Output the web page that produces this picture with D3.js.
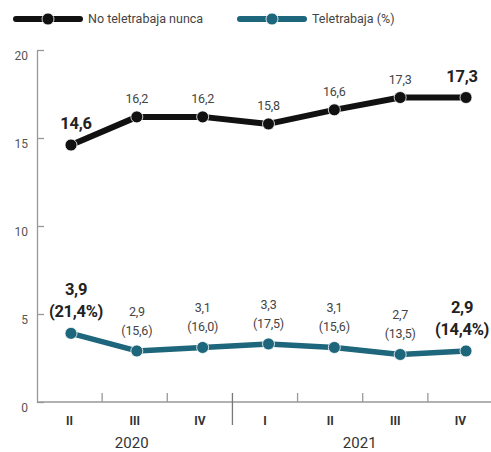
<!DOCTYPE html>
<html>
<head>
<meta charset="utf-8">
<script src="https://cdn.jsdelivr.net/npm/d3@7"></script>
<style>
  body { margin: 0; background: #fff; }
  svg { display: block; }
  .num { font-family: "Roboto", "Liberation Sans", sans-serif; }
</style>
</head>
<body>
<svg id="chart" width="491" height="452"></svg>
<script>
// data
var quarters = ["II", "III", "IV", "I", "II", "III", "IV"];
var years = ["2020", "2020", "2020", "2021", "2021", "2021", "2021"];
var nunca = [14.6, 16.2, 16.2, 15.8, 16.6, 17.3, 17.3];
var tele = [3.9, 2.9, 3.1, 3.3, 3.1, 2.7, 2.9];
var telePct = ["21,4", "15,6", "16,0", "17,5", "15,6", "13,5", "14,4"];
var yTicks = [0, 5, 10, 15, 20];

var black = "#111", teal = "#1d667b";
var svg = d3.select("#chart");
var idx = d3.range(quarters.length);

var band = d3.scaleBand().domain(idx).range([37, 493]);
var x = d3.scalePoint().domain(idx).range([71, 466]);
var y = d3.scaleLinear().domain([0, 20]).range([402, 50]);

function fmt(v) { return String(v.toFixed(1)).replace(".", ","); }
function isBig(i) { return i === 0 || i === idx.length - 1; }
// nudge the outer labels a little like the original
function labelShift(i) { return i === 0 ? 5 : (i === idx.length - 1 ? -4 : 0); }

// y axis
var yAxis = svg.append("g")
    .attr("transform", "translate(37,0)")
    .call(d3.axisLeft(y).tickValues(yTicks).tickSize(-7).tickSizeOuter(0));
yAxis.select(".domain").attr("stroke", "#999").attr("stroke-width", 1.3);
yAxis.selectAll(".tick line").attr("stroke", "#999").attr("stroke-width", 1.3);
yAxis.selectAll(".tick text")
    .attr("x", -9).attr("dy", "0.75em")
    .attr("fill", "#555")
    .style("font-family", "Roboto, sans-serif")
    .style("font-size", "12px");

// x axis line
svg.append("line")
    .attr("x1", 37).attr("x2", 491)
    .attr("y1", y(0)).attr("y2", y(0))
    .attr("stroke", "#999").attr("stroke-width", 1.3);

// tick marks between quarters, long one between years
idx.slice(1).forEach(function (i) {
    var xx = band(i);
    var sep = years[i] !== years[i - 1];
    svg.append("line")
        .attr("x1", xx).attr("x2", xx)
        .attr("y1", y(0) - 9)
        .attr("y2", sep ? y(0) + 23 : y(0))
        .attr("stroke", sep ? "#777" : "#999")
        .attr("stroke-width", 1.3);
});

svg.append("g").selectAll("text")
    .data(idx)
    .enter()
    .append("text")
    .attr("class", "num")
    .attr("x", function (i) { return band(i) + band.bandwidth() / 2; })
    .attr("y", 425)
    .attr("text-anchor", "middle")
    .attr("fill", "#333")
    .style("font-size", "12px")
    .style("font-weight", "bold")
    .text(function (i) { return quarters[i]; });

// year labels, centred under their quarters
d3.groups(idx, function (i) { return years[i]; }).forEach(function (g) {
    var first = g[1][0], lastI = g[1][g[1].length - 1];
    var cx = (band(first) + band(lastI) + band.bandwidth()) / 2;
    svg.append("text")
        .attr("class", "num")
        .attr("x", cx - 3)
        .attr("y", 448)
        .attr("text-anchor", "middle")
        .attr("fill", "#333")
        .style("font-size", "15px")
        .text(g[0]);
});

var line = d3.line()
    .x(function (d, i) { return x(i); })
    .y(function (d) { return y(d); });

function drawSeries(vals, color, width, r) {
    svg.append("path")
        .datum(vals)
        .attr("d", line)
        .attr("fill", "none")
        .attr("stroke", color)
        .attr("stroke-width", width)
        .attr("stroke-linejoin", "round");
    svg.append("g").selectAll("circle")
        .data(vals)
        .enter()
        .append("circle")
        .attr("cx", function (d, i) { return x(i); })
        .attr("cy", function (d) { return y(d); })
        .attr("r", r)
        .attr("fill", color)
        .attr("stroke", "#fff")
        .attr("stroke-width", 0.8);
}

drawSeries(nunca, black, 6, 6);
drawSeries(tele, teal, 5.5, 6);

function styleLabel(sel) {
    sel.attr("class", "num")
        .attr("text-anchor", "middle")
        .attr("fill", function (d, i) { return isBig(i) ? "#222" : "#444"; })
        .style("font-size", function (d, i) { return isBig(i) ? "16.5px" : "12.5px"; })
        .style("font-weight", function (d, i) { return isBig(i) ? "bold" : "normal"; })
        .style("letter-spacing", function (d, i) { return isBig(i) ? "-0.3px" : "-0.2px"; });
}

// labels for black series
svg.append("g").selectAll("text")
    .data(nunca)
    .enter()
    .append("text")
    .call(styleLabel)
    .attr("x", function (d, i) { return x(i) + labelShift(i); })
    .attr("y", function (d, i) { return y(d) - (isBig(i) ? 16 : 14); })
    .text(function (d) { return fmt(d); });

// labels for teal series (value + share)
var tl = svg.append("g").selectAll("g")
    .data(tele)
    .enter()
    .append("g")
    .attr("transform", function (d, i) { return translateSVG(x(i) + labelShift(i), y(d)); });

tl.append("text")
    .call(styleLabel)
    .attr("y", function (d, i) { return isBig(i) ? -38 : -35; })
    .text(function (d) { return fmt(d); });

tl.append("text")
    .call(styleLabel)
    .attr("y", -16)
    .text(function (d, i) { return "(" + telePct[i] + (isBig(i) ? "%)" : ")"); });

// legend
var legend = [
    {name: "No teletrabaja nunca", color: black, x0: 16},
    {name: "Teletrabaja (%)", color: teal, x0: 240}
];
var lg = svg.append("g").selectAll("g")
    .data(legend)
    .enter()
    .append("g")
    .attr("transform", function (d) { return translateSVG(d.x0, 19); });

lg.append("line")
    .attr("x1", 0).attr("x2", 64)
    .attr("stroke", function (d) { return d.color; })
    .attr("stroke-width", 6)
    .attr("stroke-linecap", "round");
lg.append("circle")
    .attr("cx", 32).attr("r", 6)
    .attr("fill", function (d) { return d.color; })
    .attr("stroke", "#fff").attr("stroke-width", 0.8);
lg.append("text")
    .attr("x", 72).attr("dy", "0.35em")
    .attr("fill", "#444")
    .style("font-family", "Roboto, sans-serif")
    .style("font-size", "12.5px")
    .text(function (d) { return d.name; });

function translateSVG(a, b) {
    return "translate(" + a + "," + b + ")";
}
</script>
</body>
</html>
